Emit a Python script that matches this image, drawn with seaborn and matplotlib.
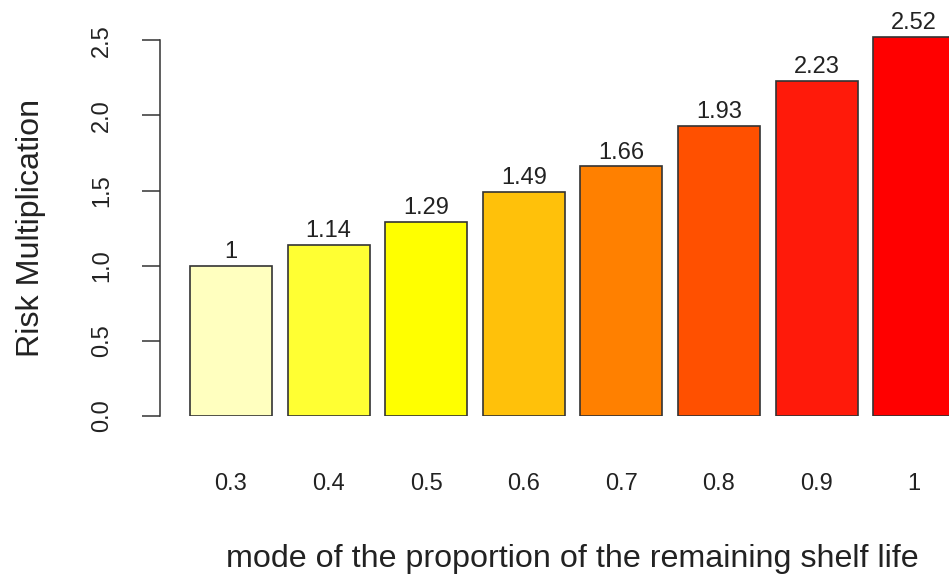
import matplotlib
matplotlib.use("Agg")
import matplotlib.pyplot as plt
import seaborn as sns
import pandas as pd

# proportion of remaining shelf life (mode) and risk multiplication
categories = ["0.3", "0.4", "0.5", "0.6", "0.7", "0.8", "0.9", "1"]
risk = [1.00, 1.14, 1.29, 1.49, 1.66, 1.93, 2.23, 2.52]
bar_colors = ["#FFFFBF", "#FFFF33", "#FFFF00", "#FFC10A",
              "#FF8000", "#FF5000", "#FF1A0A", "#FF0000"]

df = pd.DataFrame({"mode": categories, "risk": risk})

sns.set_style("white")
plt.rcParams["font.family"] = ["Liberation Sans", "DejaVu Sans"]

fig = plt.figure(figsize=(9.49, 5.75), dpi=100)
ax = fig.add_axes([0.1686, 0.2765, 0.8314, 0.685])

sns.barplot(data=df, x="mode", y="risk", hue="mode", palette=bar_colors,
            legend=False, width=0.84, edgecolor="#333333", linewidth=1.2,
            saturation=1, ax=ax)

for cont, v in zip(ax.containers, risk):
    ax.bar_label(cont, labels=[f"{v:g}"], padding=2, fontsize=17,
                 color="#222222", clip_on=False)

ax.set_xlim(-0.727, 7.357)
ax.set_ylim(0, 2.62)
ax.set_yticks([0, 0.5, 1.0, 1.5, 2.0, 2.5])
ax.set_yticklabels(["0.0", "0.5", "1.0", "1.5", "2.0", "2.5"],
                   rotation=90, va="center", fontsize=17)
ax.tick_params(axis="y", length=13, width=1.1, color="#333333", pad=21,
               left=True, labelcolor="#222222")
ax.tick_params(axis="x", length=0, pad=41, labelsize=17, labelcolor="#222222")

for s in ["top", "right", "bottom"]:
    ax.spines[s].set_visible(False)
ax.spines["left"].set_bounds(0, 2.5)
ax.spines["left"].set_color("#333333")
ax.spines["left"].set_linewidth(1.1)

ax.set_xlabel("mode of the proportion of the remaining shelf life",
              fontsize=23.2, color="#222222")
ax.xaxis.set_label_coords(0.522, -0.325)
ax.set_ylabel("Risk Multiplication", fontsize=23.2, color="#222222")
ax.yaxis.set_label_coords(-0.145, 0.477)

fig.savefig("out.png", dpi=100)
